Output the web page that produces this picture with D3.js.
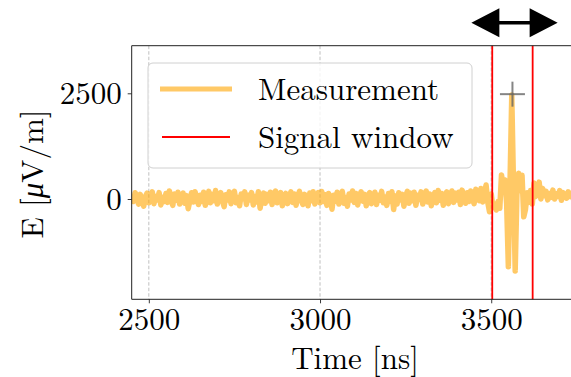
<!DOCTYPE html>
<html>
<head>
<meta charset="UTF-8">
<script src="https://d3js.org/d3.v7.min.js"></script>
<style>
  body { margin: 0; background: #fff; }
</style>
</head>
<body>
<svg id="chart"></svg>
<script>
// trace sampling
const t0 = 2450;
const dt = 5;

// E field [uV/m], one value every 5 ns from 2450 ns
const efield = [
  80, -60, 150, 20, -120, 110, -40, -170, 60, 140,
  -90, 30, 170, -110, 60, -20, 150, -140, 40, -60,
  130, -80, 190, 10, -150, 120, -30, 160, -120, 50,
  140, -100, 80, -230, -40, 150, -70, 170, 20, -130,
  90, -60, 160, -150, 30, 180, -90, 110, -40, 200,
  -120, 70, 150, -50, -180, 100, -20, 170, -110, 60,
  180, -90, 40, -160, 120, 10, 170, -130, 90, -20,
  150, -140, 60, -70, 170, -220, 30, 140, -100, 110,
  -40, 160, -130, 80, 190, -90, 20, 150, -160, 70,
  130, -110, 40, 170, -80, 120, -150, 60, 180, -30,
  -130, 110, 50, -160, 140, -40, 170, -120, 20, 150,
  -90, 180, -60, 100, -150, 130, 30, -240, 90, -50,
  160, -120, 70, 180, -100, 40, -170, 120, -20, 190,
  -80, 130, -140, 60, 170, -50, 110, -160, 80, 150,
  -110, 20, 160, -130, 90, -30, 180, -90, 50, -150,
  130, -60, 170, -250, 70, -120, 150, -20, 110, -170,
  60, 180, -100, 140, -40, 160, -150, 90, -10, 170,
  -120, 80, 190, -70, 120, -160, 50, 150, -90, 200,
  -30, 130, -150, 100, 170, -110, 60, 190, -80, 140,
  -20, 160, -130, 210, 40, -100, 150, -60, 190, 20,
  -110, 230, 60, -40, 250, -70, 140,
  // 3485 ns ->
  330, -80, -300, 120, -200, -120, -260, -60, -220, 570,
  300, 450, -100, -1600, 430, 2460, 380, -1700, 100, 610,
  200, 560, -420, -250, 150, -80, 200, -120, 380, 60,
  150, 400, 0, 250, 80, 180, -20, 130, 40, 210,
  0, 120, 60, 200, -30, 150, 90, 20, 170, 60,
  120, 0, 140, 80
];

const xTicks = [2500, 3000, 3500];
const yTicks = [0, 2500];
const windowLines = [3503, 3621];
const arrowSpan = [3442, 3694];
const peakMarker = { t: 3562, e: 2480 };
const legendItems = ["Measurement", "Signal window"];

const FONT = '"Latin Modern Roman", "CMU Serif", "Liberation Serif"';
const W = 571, H = 377;
const svg = d3.select("#chart").attr("width", W).attr("height", H);

const pLeft = 131.7, pTop = 45.7, pBottom = 299.3;
const x = d3.scaleLinear().domain([2450, 3800]).range([pLeft, pLeft + 1350 * 0.3424]);
const y = d3.scaleLinear().domain([-2372, 3626]).range([pBottom, pTop]);
const pRight = x.range()[1];

svg.append("defs").append("clipPath").attr("id", "plotclip")
  .append("rect").attr("x", pLeft).attr("y", pTop)
  .attr("width", pRight - pLeft).attr("height", pBottom - pTop);

// vertical grid
svg.append("g").selectAll("line").data(xTicks).enter().append("line")
  .attr("x1", d => x(d)).attr("x2", d => x(d))
  .attr("y1", pTop).attr("y2", pBottom)
  .attr("stroke", "#b0b0b0").attr("stroke-width", 0.8)
  .attr("stroke-dasharray", "3.5 2");

// trace
const pts = efield.map((v, i) => ({ t: t0 + i * dt, v: v }));
const line = d3.line().x(d => x(d.t)).y(d => y(d.v));
svg.append("path").datum(pts)
  .attr("clip-path", "url(#plotclip)")
  .attr("d", line)
  .attr("fill", "none")
  .attr("stroke", "orange")
  .attr("stroke-opacity", 0.6)
  .attr("stroke-width", 5.5)
  .attr("stroke-linejoin", "round");

// signal window
svg.append("g").selectAll("line").data(windowLines).enter().append("line")
  .attr("x1", d => x(d)).attr("x2", d => x(d))
  .attr("y1", pTop).attr("y2", pBottom)
  .attr("stroke", "red").attr("stroke-width", 1.8);

// peak marker
const mk = svg.append("g").attr("stroke", "#666").attr("stroke-opacity", 0.8).attr("stroke-width", 2);
mk.append("line")
  .attr("x1", x(peakMarker.t) - 12.5).attr("x2", x(peakMarker.t) + 12.5)
  .attr("y1", y(peakMarker.e)).attr("y2", y(peakMarker.e));
mk.append("line")
  .attr("x1", x(peakMarker.t)).attr("x2", x(peakMarker.t))
  .attr("y1", y(peakMarker.e) - 12.5).attr("y2", y(peakMarker.e) + 12.5);

// axes
const xAxis = svg.append("g").attr("transform", `translate(0,${pBottom})`)
  .call(d3.axisBottom(x).tickValues(xTicks).tickSize(4).tickPadding(4.5).tickFormat(d3.format("d")));
const yAxis = svg.append("g").attr("transform", `translate(${pLeft},0)`)
  .call(d3.axisLeft(y).tickValues(yTicks).tickSize(4).tickPadding(6).tickFormat(d3.format("d")));
[xAxis, yAxis].forEach(a => {
  a.select(".domain").remove();
  a.selectAll(".tick line").attr("stroke", "#222").attr("stroke-width", 0.9);
  a.selectAll(".tick text").style("font-family", FONT).attr("font-size", 31).attr("fill", "#000");
});
xAxis.selectAll(".tick text").attr("dy", "0.72em");
yAxis.selectAll(".tick text").attr("dy", "0.33em");

// spines
svg.append("path")
  .attr("d", `M${pRight},${pTop}H${pLeft}V${pBottom}H${pRight}`)
  .attr("fill", "none").attr("stroke", "#222").attr("stroke-width", 1);

// axis labels
svg.append("text").attr("x", 355).attr("y", 369)
  .style("font-family", FONT)
  .attr("text-anchor", "middle").attr("font-size", 31).text("Time [ns]");
const yl = svg.append("text").attr("transform", "translate(43,174) rotate(-90)")
  .style("font-family", FONT)
  .attr("text-anchor", "middle").attr("font-size", 31);
yl.append("tspan").text("E [");
yl.append("tspan").attr("font-style", "italic").text("\u03bc");
yl.append("tspan").text("V/m]");

// legend
const lg = svg.append("g");
lg.append("rect").attr("x", 148).attr("y", 63).attr("width", 324).attr("height", 105)
  .attr("rx", 5).attr("fill", "#fff").attr("fill-opacity", 0.8)
  .attr("stroke", "#d0d0d0").attr("stroke-width", 1);
lg.append("line").attr("x1", 160).attr("x2", 232).attr("y1", 89).attr("y2", 89)
  .attr("stroke", "orange").attr("stroke-opacity", 0.6).attr("stroke-width", 5);
lg.append("line").attr("x1", 162).attr("x2", 230).attr("y1", 137).attr("y2", 137)
  .attr("stroke", "red").attr("stroke-width", 2);
lg.selectAll("text.lab").data(legendItems).enter().append("text")
  .attr("class", "lab")
  .style("font-family", FONT)
  .attr("x", 258).attr("y", (d, i) => 100 + i * 48)
  .attr("font-size", 31).text(d => d);

// window arrow
const ay = 22.7, headL = 28, headW = 14.5;
const ax1 = x(arrowSpan[0]), ax2 = x(arrowSpan[1]);
svg.append("line").attr("x1", ax1 + headL - 2).attr("x2", ax2 - headL + 2)
  .attr("y1", ay).attr("y2", ay).attr("stroke", "#000").attr("stroke-width", 3.5);
svg.append("path")
  .attr("d", `M${ax1},${ay}L${ax1 + headL},${ay - headW}V${ay + headW}Z M${ax2},${ay}L${ax2 - headL},${ay - headW}V${ay + headW}Z`)
  .attr("fill", "#000");
</script>
</body>
</html>
